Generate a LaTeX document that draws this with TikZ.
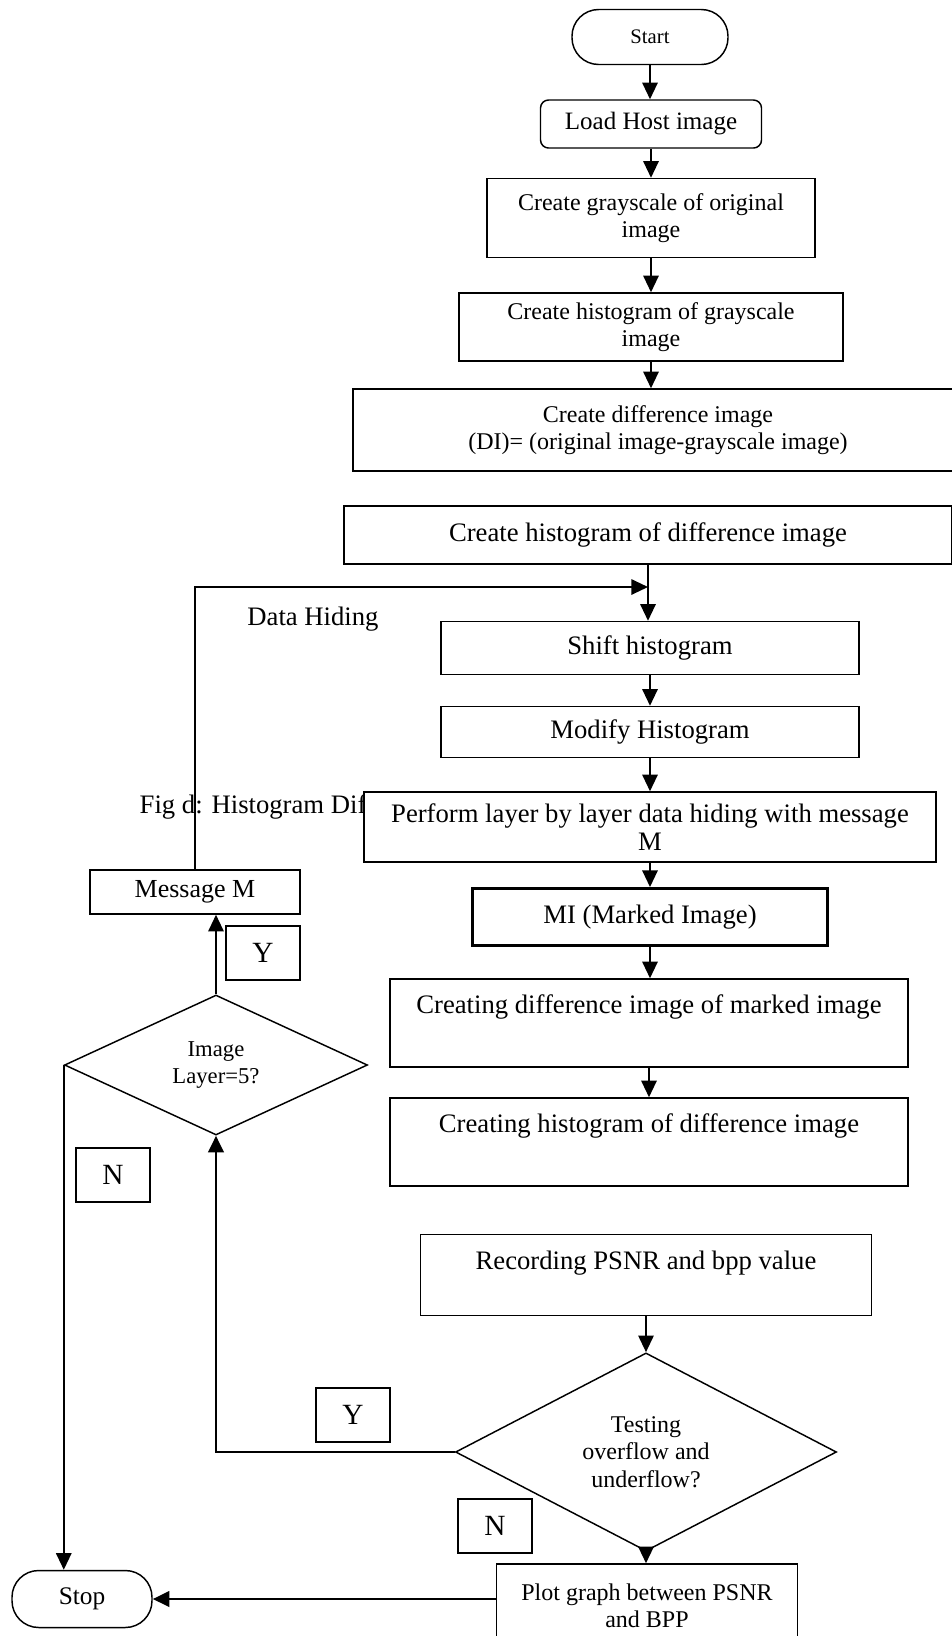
\documentclass[tikz,border=0pt]{standalone}
\usepackage{fontspec}
\setmainfont{Liberation Serif}
\usetikzlibrary{arrows.meta, shapes.geometric}
\tikzset{
  every picture/.style={line width=1.1pt, x=0.75pt, y=-0.75pt},
  sz/.style 2 args={minimum width=#1*0.75pt, minimum height=#2*0.75pt},
  box/.style={draw, fill=white, align=center, inner sep=2pt, font=\fontsize{20}{21}\selectfont},
  small/.style={font=\fontsize{18}{20.5}\selectfont},
  pill/.style={box, rounded corners=20pt},
  topbox/.style={box, inner ysep=0pt, text height=26pt, text depth=#1},
  decision/.style={draw, diamond, fill=white, align=center, inner sep=0pt},
  tag/.style={draw, fill=white, sz={74}{54}, font=\fontsize{22}{24}\selectfont},
  arrow/.style={-{Triangle[length=12.5pt, width=11.5pt]}, line width=1.5pt},
  heavy/.style={line width=2.2pt},
  note/.style={font=\fontsize{20}{21}\selectfont},
}

\begin{document}
\begin{tikzpicture}
  \useasboundingbox (0,0) rectangle (951,1636);
  % notes on the left
  \node[note] (hiding) at (313,619) {Data Hiding};
  \node[note, anchor=base west, inner sep=0pt] (figd) at (139,813) {Fig d: Histogram Dif};
  % main column
  \node[pill, sz={156}{55}, font=\fontsize{15.5}{17}\selectfont] (start) at (650,37) {Start};
  \node[box, sz={221}{48}, rounded corners=6pt, font=\fontsize{18.75}{20}\selectfont] (load) at (651,124) {Load Host image};
  \node[box, small, sz={328}{79}] (gray) at (651,218) {Create grayscale of original\\image};
  \node[box, small, sz={384}{68}] (hgray) at (651,327) {Create histogram of grayscale\\image};
  \node[box, small, sz={610}{82}] (diff) at (658,430) {Create difference image\\(DI)= (original image-grayscale image)};
  \node[box, sz={608}{58}] (hdiff) at (648,535) {Create histogram of difference image};
  \node[box, sz={418}{53}] (shift) at (650,648) {Shift histogram};
  \node[box, sz={418}{51}] (modify) at (650,732) {Modify Histogram};
  \node[box, sz={572}{70}] (perform) at (650,827) {Perform layer by layer data hiding with message\\M};
  \node[box, sz={355}{57}, line width=2.2pt] (mi) at (650,917) {MI (Marked Image)};
  \node[topbox=40pt, sz={518}{88}] (cdm) at (649,1023) {Creating difference image of marked image};
  \node[topbox=40pt, sz={518}{88}] (chd) at (649,1142) {Creating histogram of difference image};
  \node[topbox=34.75pt, sz={451}{81}] (rec) at (646,1275) {Recording PSNR and bpp value};
  \node[decision, small, sz={381}{179}] (test) at (646,1452) {Testing\\overflow and\\underflow?};
  \node[box, small, sz={301}{84}] (plot) at (647,1606) {Plot graph between PSNR\\and BPP};
  % left column
  \node[box, sz={210}{44}, font=\fontsize{19.5}{21}\selectfont] (msg) at (195,892) {Message M};
  \node[decision, sz={303}{140}, font=\fontsize{17}{20.5}\selectfont] (layer) at (216,1065) {Image\\Layer=5?};
  \node[pill, sz={140}{57}, font=\fontsize{19}{21}\selectfont] (stop) at (82,1599) {Stop};
  \node[tag] (yes1) at (263,953) {Y};
  \node[tag] (no1) at (113,1175) {N};
  \node[tag] (yes2) at (353,1415) {Y};
  \node[tag] (no2) at (495,1526) {N};
  % connectors
  \foreach \a/\b in {start/load, load/gray, gray/hgray, hgray/diff, hdiff/shift, shift/modify, modify/perform, perform/mi, mi/cdm, cdm/chd, rec/test, test/plot}
    \draw[arrow] (\a.south) -- (\a.south |- \b.north);
  \coordinate (join) at (648,587);
  \draw[arrow] (msg.north) -- (msg.north |- join) -- (join);
  \draw[arrow] (layer.north) -- (layer.north |- msg.south);
  \draw[arrow] (layer.west) -- (layer.west |- stop.north);
  \draw[arrow, heavy] (test.west) -- (test.west -| layer.south) -- (layer.south);
  \draw[arrow, heavy] (plot.west |- stop.east) -- (stop.east);
\end{tikzpicture}
\end{document}
